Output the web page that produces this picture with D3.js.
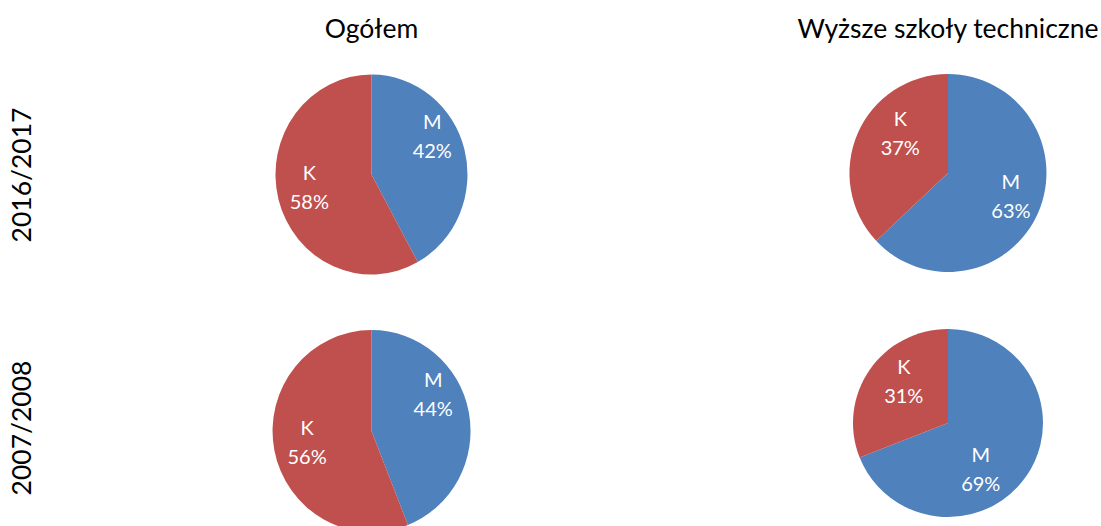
<!doctype html>
<html lang="pl">
<head>
<meta charset="UTF-8">
<title>Studenci wg płci</title>
<script src="https://d3js.org/d3.v7.js" charset="utf-8"></script>
<style>
    body { margin: 0; background: #ffffff; }
    svg text { font-family: Lato, "Open Sans", sans-serif; }
</style>
</head>
<body>
<svg id="cvas" width="1101" height="526"></svg>
<script>

    // ---- data ---- //
    const columns = ["Ogółem", "Wyższe szkoły techniczne"];
    const years = ["2016/2017", "2007/2008"];
    const categories = ["M", "K"];
    const ogolem_2016 = [42, 58];
    const techniczne_2016 = [63, 37];
    const ogolem_2008 = [44, 56];
    const techniczne_2008 = [69, 31];

    const COLORS = ["#4F81BD", "#C0504D"];
    const LABEL_SIZE = 20;

    // ---- layout ---- //
    const svg = d3.select("#cvas");
    const x = d3.scaleOrdinal().domain(columns).range([371.5, 948]);
    const y = d3.scaleOrdinal().domain(years).range([174, 427]);
    const color = d3.scaleOrdinal().domain(categories).range(COLORS);

    // geometry of each pie: small vertical shift, radii (the original is slightly squashed)
    // and label placement (angle shift in degrees from the slice bisector, distance as fraction of radius)
    const pies = [
        { col: columns[0], year: years[0], values: ogolem_2016, dy: 0.5, rx: 96, ry: 100,
          lbl: [[-16.8, 0.74], [3.4, 0.66]] },
        { col: columns[1], year: years[0], values: techniczne_2016, dy: -1, rx: 98.5, ry: 99,
          lbl: [[-3.3, 0.68], [16.3, 0.63]] },
        { col: columns[0], year: years[1], values: ogolem_2008, dy: 4, rx: 99, ry: 101,
          lbl: [[-19.2, 0.72], [1.3, 0.66]] },
        { col: columns[1], year: years[1], values: techniczne_2008, dy: -4, rx: 95, ry: 94,
          lbl: [[20.7, 0.6], [9.1, 0.64]] }
    ];

    const pie = d3.pie().sort(null).value(d => d.value);
    const arc = d3.arc().innerRadius(0).outerRadius(1);

    svg.selectAll(".col_title").data(columns)
        .enter().append("text")
        .attr("class", "col_title")
        .attr("x", d => x(d))
        .attr("y", 38)
        .attr("text-anchor", "middle")
        .style("font-size", "26.5px")
        .style("fill", "#000")
        .text(d => d);

    svg.selectAll(".row_title").data(years)
        .enter().append("text")
        .attr("class", "row_title")
        .attr("transform", d => `translate(31,${y(d) + 1}) rotate(-90)`)
        .attr("text-anchor", "middle")
        .style("font-size", "26.5px")
        .style("fill", "#000")
        .text(d => d);

    pies.forEach(p => {
        const slices = pie(categories.map((c, i) => ({ cat: c, value: p.values[i], lbl: p.lbl[i] })));
        const g = svg.append("g").attr("transform", `translate(${x(p.col)},${y(p.year) + p.dy})`);

        g.append("g").attr("transform", `scale(${p.rx},${p.ry})`)
            .selectAll("path").data(slices)
            .enter().append("path")
            .attr("d", arc)
            .style("fill", d => color(d.data.cat));

        const labels = g.selectAll(".lbl").data(slices)
            .enter().append("text")
            .attr("class", "lbl")
            .attr("text-anchor", "middle")
            .style("font-size", LABEL_SIZE + "px")
            .style("fill", "#ffffff")
            .attr("transform", d => {
                const a = (d.startAngle + d.endAngle) / 2 + d.data.lbl[0] * Math.PI / 180;
                const k = d.data.lbl[1];
                return `translate(${Math.sin(a) * p.rx * k},${-Math.cos(a) * p.ry * k})`;
            });
        labels.append("tspan").attr("x", 0).attr("dy", "-7.5px").text(d => d.data.cat);
        labels.append("tspan").attr("x", 0).attr("dy", "29px").text(d => d.data.value + "%");
    });

</script>
</body>
</html>
